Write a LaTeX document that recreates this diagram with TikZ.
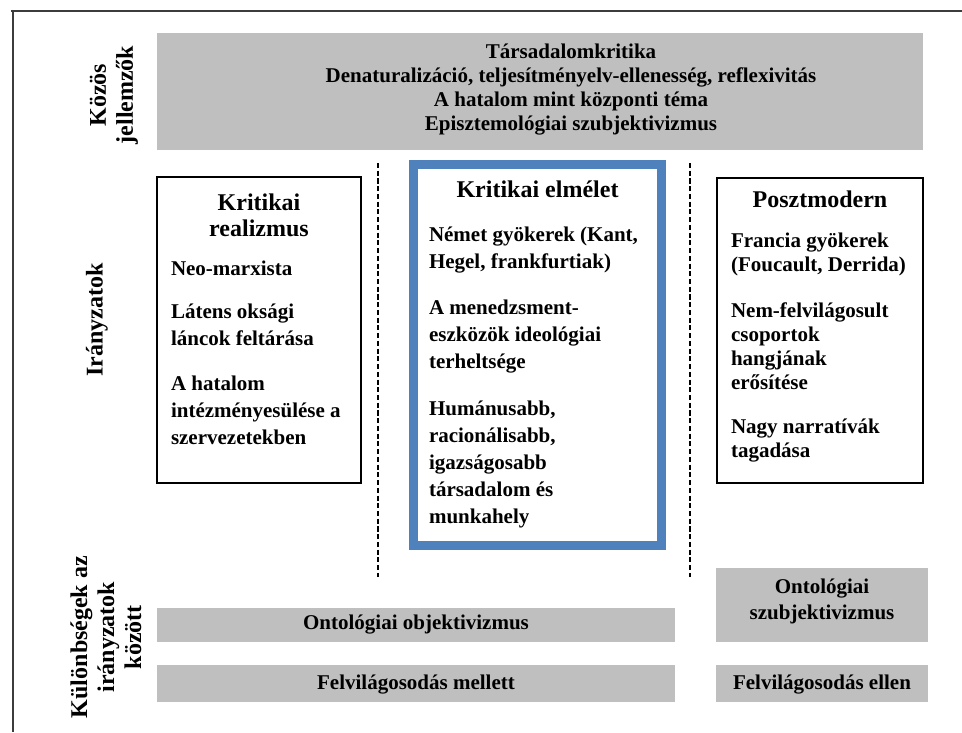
\documentclass[tikz,border=0pt]{standalone}
\usepackage{fontspec}
\setmainfont{Liberation Serif}
\definecolor{boxgray}{RGB}{191,191,191}
\definecolor{frameblue}{RGB}{79,129,189}
\definecolor{framedark}{RGB}{60,60,60}
\begin{document}
\begin{tikzpicture}[x=0.75pt,y=-0.75pt,
  every node/.style={inner sep=0pt, outer sep=0pt},
  grayfill/.style={fill=boxgray, draw=none},
  wbox/.style={draw=black, line width=1.1pt, fill=white},
  bluebox/.style={draw=frameblue, line width=6.75pt, fill=white},
  sepline/.style={draw=black, line width=0.9pt, dash pattern=on 3.8pt off 2pt},
  framing/.style={draw=framedark, line width=1.5pt},
  titletxt/.style={font=\fontsize{18}{19.5}\selectfont\bfseries, align=center, anchor=base},
  bodyA/.style={font=\fontsize{15.75}{20.4}\selectfont\bfseries, align=left, anchor=base west},
  bodyB/.style={font=\fontsize{15.75}{18}\selectfont\bfseries, align=left, anchor=base west},
  toptxt/.style={font=\fontsize{15.75}{18}\selectfont\bfseries, align=center, anchor=base},
  graytxt/.style={font=\fontsize{15.75}{19.5}\selectfont\bfseries, align=center, anchor=base},
  sidetxt/.style={font=\fontsize{18}{20.25}\selectfont\bfseries, align=center, rotate=90}]
\useasboundingbox (0,0) rectangle (962,732);
% outer frame (top and left only)
\draw[framing] (11,10.5) -- (962,10.5);
\draw[framing] (12.5,10) -- (12.5,732);
% top gray box
\path[grayfill] (157,33) rectangle (923,150);
\node[toptxt] (top) at (571,130) {Társadalomkritika\\Denaturalizáció, teljesítményelv-ellenesség, reflexivitás\\A hatalom mint központi téma\\Episztemológiai szubjektivizmus};
% dashed separators
\coordinate (s1a) at (378,163);
\coordinate (s1b) at (378,577);
\coordinate (s2a) at (690,163);
\coordinate (s2b) at (690,577);
\draw[sepline] (s1a) -- (s1b);
\draw[sepline] (s2a) -- (s2b);
% left column box
\draw[wbox] (157,177) rectangle (361,483);
\node[titletxt] (krtitle) at (259,236) {Kritikai\\realizmus};
\node[bodyA] (kr1) at (171,275) {Neo-marxista};
\node[bodyA] (kr2) at (171,345.2) {Látens oksági\\láncok feltárása};
\node[bodyA] (kr3) at (171,444.4) {A hatalom\\intézményesülése a\\szervezetekben};
% middle blue box
\draw[bluebox] (413.5,164.5) rectangle (661.5,545.5);
\node[titletxt] (ketitle) at (537.5,197) {Kritikai elmélet};
\node[bodyA] (ke1) at (429,268.2) {Német gyökerek (Kant,\\Hegel, frankfurtiak)};
\node[bodyA] (ke2) at (429,368.4) {A menedzsment-\\eszközök ideológiai\\terheltsége};
\node[bodyA] (ke3) at (429,523.8) {Humánusabb,\\racionálisabb,\\igazságosabb\\társadalom és\\munkahely};
% right box
\draw[wbox] (717,178) rectangle (923,483);
\node[titletxt] (pmtitle) at (820,207) {Posztmodern};
\node[bodyB] (pm1) at (731,271) {Francia gyökerek\\(Foucault, Derrida)};
\node[bodyB] (pm2) at (731,389) {Nem-felvilágosult\\csoportok\\hangjának\\erősítése};
\node[bodyB] (pm3) at (731,457) {Nagy narratívák\\tagadása};
% bottom gray boxes
\path[grayfill] (157,608) rectangle (675,642);
\node[graytxt] (onto1) at (416,629) {Ontológiai objektivizmus};
\path[grayfill] (157,665) rectangle (675,702);
\node[graytxt] (felv1) at (416,689) {Felvilágosodás mellett};
\path[grayfill] (716,568) rectangle (928,642);
\node[graytxt] (onto2) at (822,619) {Ontológiai\\szubjektivizmus};
\path[grayfill] (716,665) rectangle (928,702);
\node[graytxt] (felv2) at (822,689) {Felvilágosodás ellen};
% side labels
\node[sidetxt] (lab1) at (114,95) {Közös\\jellemzők};
\node[sidetxt] (lab2) at (97,320) {Irányzatok};
\node[sidetxt] (lab3) at (106,637) {Különbségek az\\irányzatok\\között};
\end{tikzpicture}
\end{document}
